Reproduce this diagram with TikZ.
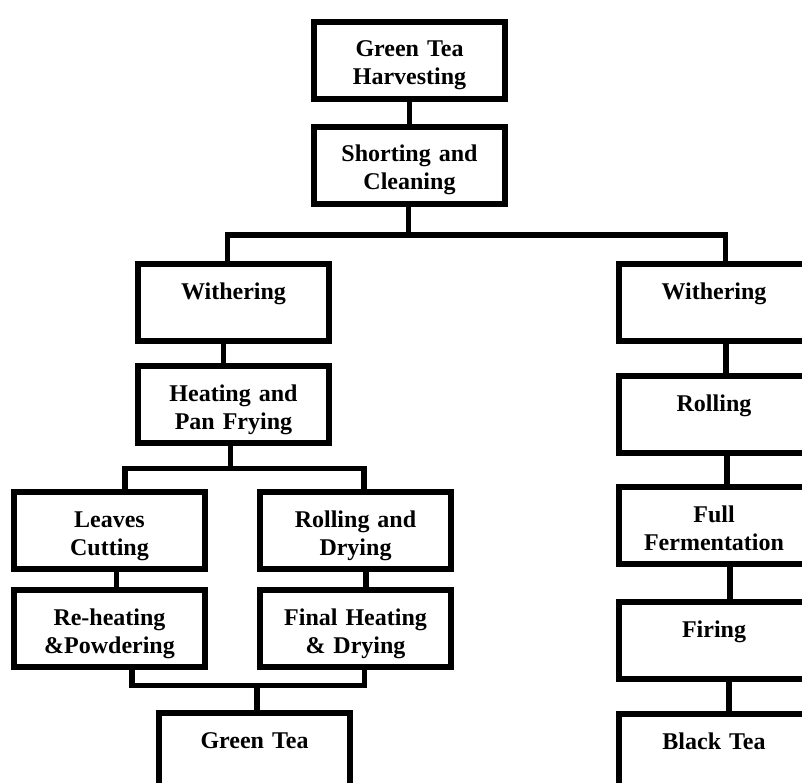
\documentclass[tikz,border=0pt]{standalone}
\usepackage{fontspec}
\setmainfont{Liberation Serif}
\tikzset{
  stage/.style={draw, line width=6pt, anchor=north, text width=185pt, align=center,
    inner xsep=3pt, inner ysep=0pt, text height=35pt, text depth=42pt,
    font=\fontsize{24}{28}\selectfont\bfseries},
  link/.style={line width=5.5pt}
}
\begin{document}
\begin{tikzpicture}[x=1pt,y=-1pt]
\useasboundingbox (0,0) rectangle (802,783);
\clip (0,0) rectangle (802,783);
\node[stage] (harvest) at (409.5,19) {Green Tea\\Harvesting};
\node[stage] (sorting) at (409.5,124) {Shorting and\\Cleaning};
\node[stage] (witherg) at (233.5,261) {Withering};
\node[stage] (heatfry) at (233.5,363) {Heating and\\Pan Frying};
\node[stage] (cutting) at (109.5,489) {Leaves\\Cutting};
\node[stage] (powder) at (109.5,587) {Re-heating\\\&Powdering};
\node[stage] (rolldry) at (355.5,489) {Rolling and\\Drying};
\node[stage] (finaldry) at (355.5,587) {Final Heating\\\& Drying};
\node[stage] (greentea) at (254.5,710) {Green Tea};
\foreach \name/\top/\txt in {witherb/261/Withering, rollb/373/Rolling, ferment/484/{Full\\Fermentation}, firing/599/Firing, blacktea/711/Black Tea}
  \node[stage] (\name) at (714,\top) {\txt};
\draw[link] (harvest.south) -- (sorting.north);
\coordinate (split) at (408.5,235);
\draw[link] ([xshift=-1pt]sorting.south) -- (split);
\draw[link] ([xshift=-6pt]witherg.north) |- (split) -| ([xshift=11.5pt]witherb.north);
\draw[link] ([xshift=-10pt]witherg.south) -- ([xshift=-10pt]heatfry.north);
\coordinate (splitg) at (230.5,468.5);
\draw[link] ([xshift=-3pt]heatfry.south) -- (splitg);
\draw[link] ([xshift=15.5pt]cutting.north) |- (splitg) -| ([xshift=8.5pt]rolldry.north);
\draw[link] ([xshift=7pt]cutting.south) -- ([xshift=7pt]powder.north);
\draw[link] ([xshift=10.5pt]rolldry.south) -- ([xshift=10.5pt]finaldry.north);
\coordinate (join) at (257,685.5);
\draw[link] ([xshift=22.5pt]powder.south) |- (join) -| ([xshift=9pt]finaldry.south);
\draw[link] (join) -- ([xshift=2.5pt]greentea.north);
\foreach \a/\b/\dx in {witherb/rollb/12, rollb/ferment/13, ferment/firing/16, firing/blacktea/15}
  \draw[link] ([xshift=\dx pt]\a.south) -- ([xshift=\dx pt]\b.north);
\end{tikzpicture}
\end{document}
